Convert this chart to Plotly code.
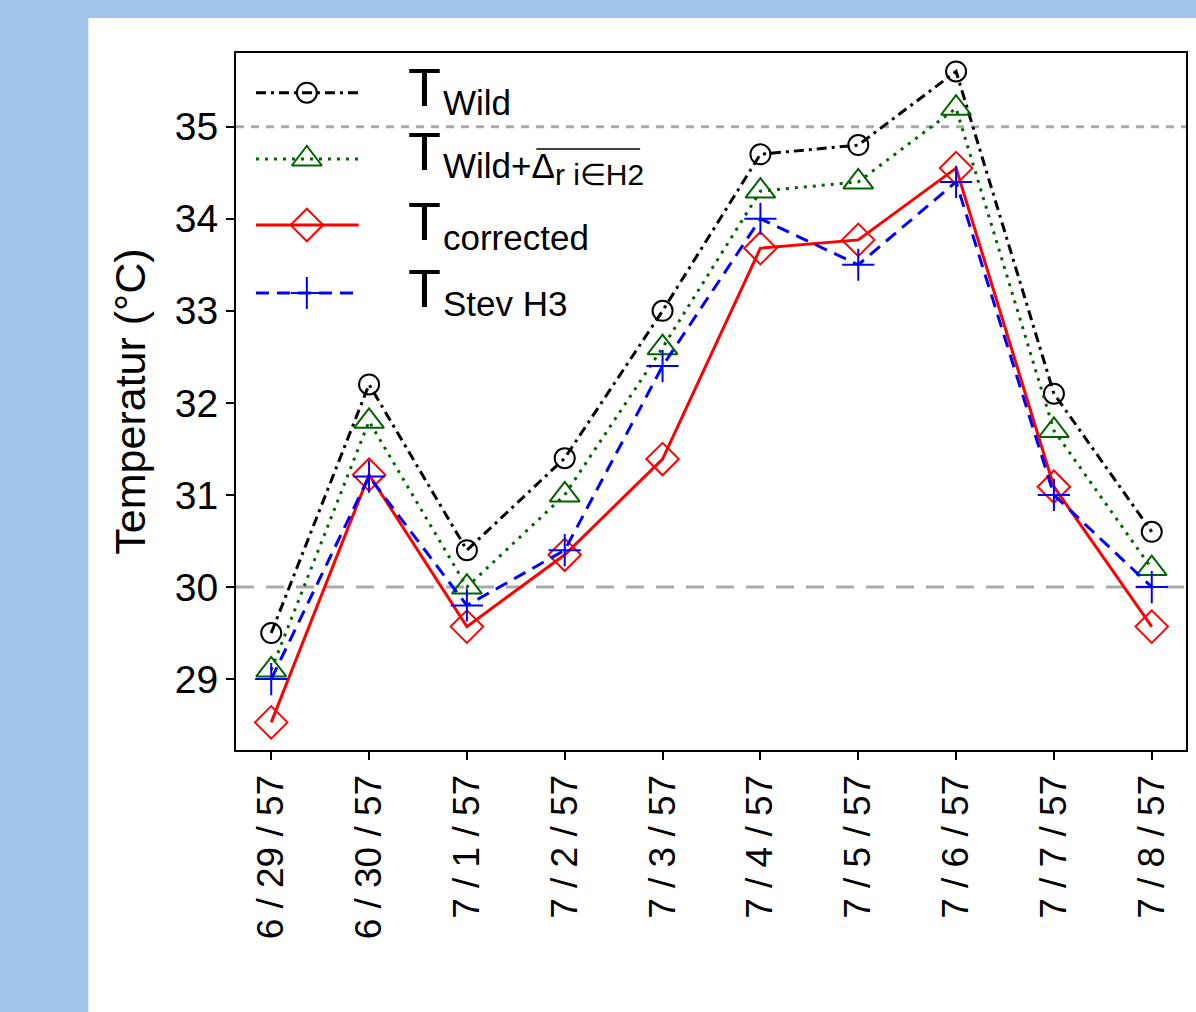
import plotly.graph_objects as go

# ---------------- data ----------------
dates = ["6 / 29 / 57", "6 / 30 / 57", "7 / 1 / 57", "7 / 2 / 57", "7 / 3 / 57",
         "7 / 4 / 57", "7 / 5 / 57", "7 / 6 / 57", "7 / 7 / 57", "7 / 8 / 57"]
t_wild = [29.5, 32.2, 30.4, 31.4, 33.0, 34.7, 34.8, 35.6, 32.1, 30.6]
t_wild_delta = [29.1, 31.8, 30.0, 31.0, 32.6, 34.3, 34.4, 35.2, 31.7, 30.2]
t_corrected = [28.53, 31.22, 29.57, 30.35, 31.39, 33.68, 33.77, 34.55, 31.09, 29.57]
t_stev_h3 = [29.0, 31.2, 29.8, 30.4, 32.4, 34.0, 33.5, 34.4, 31.0, 30.0]
y_ticks = [29, 30, 31, 32, 33, 34, 35]
ref_levels = [35, 30]

# ---------------- layout geometry (pixels) ----------------
W, H = 1196, 1012
L, R, T, B = 236, 1188, 53, 750
FONT = "Liberation Sans, Arial, Helvetica, sans-serif"


def px_x(px):
    return (px - L) / (R - L)


def px_y(py):
    return (B - py) / (B - T)


series = [
    dict(name="Wild", y=t_wild, color="black", dash="10px,5px,3px,5px",
         symbol="circle-open", size=20),
    dict(name="Wild+Δ", y=t_wild_delta, color="#006400", dash="3px,6px",
         symbol="triangle-up-open", size=26),
    dict(name="corrected", y=t_corrected, color="#ff0000", dash="solid",
         symbol="diamond-open", size=25),
    dict(name="Stev H3", y=t_stev_h3, color="#0000ff", dash="13px,8px",
         symbol="cross-thin-open", size=23),
]

fig = go.Figure()

for s in series:
    fig.add_trace(go.Scatter(
        x=dates, y=s["y"], mode="lines+markers", name=s["name"],
        line=dict(color=s["color"], width=3, dash=s["dash"]),
        marker=dict(symbol=s["symbol"], size=s["size"], color=s["color"],
                    line=dict(color=s["color"], width=2)),
        showlegend=False, cliponaxis=False,
    ))

# ---------------- custom legend ----------------
leg_rows = [92.7, 159, 225, 293]
for s, ry in zip(series, leg_rows):
    fig.add_trace(go.Scatter(
        x=[px_x(256), px_x(359)], y=[px_y(ry), px_y(ry)], mode="lines",
        line=dict(color=s["color"], width=3, dash=s["dash"]),
        xaxis="x2", yaxis="y2", showlegend=False, hoverinfo="skip",
    ))
    fig.add_trace(go.Scatter(
        x=[px_x(307)], y=[px_y(ry)], mode="markers",
        marker=dict(symbol=s["symbol"], size=s["size"], color=s["color"],
                    line=dict(color=s["color"], width=2)),
        xaxis="x2", yaxis="y2", showlegend=False, hoverinfo="skip",
    ))

annotations = []


def ann(text, x, yc, size):
    annotations.append(dict(
        text=text, x=px_x(x), y=px_y(yc), xref="paper", yref="paper",
        xanchor="left", yanchor="middle", showarrow=False,
        font=dict(family=FONT, size=size, color="black"),
    ))


big_T_centers = [87.3, 151.3, 221.3, 288.3]
subs = ["Wild",
        "Wild+Δ<sub><span style='font-size:30px'>r i∈H2</span></sub>",
        "corrected", "Stev H3"]
sub_centers = [102.6, 168.0, 237.3, 303.6]
for c in big_T_centers:
    ann("T", 406, c, 54)
for t, c in zip(subs, sub_centers):
    ann(t, 441, c, 35)

shapes = [
    # white panel
    dict(type="rect", xref="paper", yref="paper",
         x0=px_x(88), x1=px_x(W + 5), y0=px_y(18), y1=px_y(H + 5),
         fillcolor="white", line=dict(width=0), layer="below"),
    # overline above Δ r i∈H2
    dict(type="line", xref="paper", yref="paper",
         x0=px_x(537), x1=px_x(641), y0=px_y(149), y1=px_y(149),
         line=dict(color="black", width=1.5)),
]
ref_dashes = ["8px,7px", "18px,12px"]
for lvl, d in zip(ref_levels, ref_dashes):
    shapes.append(dict(type="line", xref="paper", yref="y", x0=0, x1=1,
                       y0=lvl, y1=lvl, layer="below",
                       line=dict(color="#aaaaaa", width=3, dash=d)))

fig.update_layout(
    width=W, height=H, autosize=False,
    margin=dict(l=L, r=W - R, t=T, b=H - B, pad=0),
    paper_bgcolor="#9fc3e9", plot_bgcolor="white",
    font=dict(family=FONT, color="black"),
    showlegend=False,
    xaxis=dict(
        type="category", categoryorder="array", categoryarray=dates,
        range=[-0.36, 9.35], showline=True, linecolor="black", linewidth=2,
        mirror=True, ticks="outside", ticklen=8, tickwidth=1.5, tickcolor="black",
        tickangle=-90, tickfont=dict(size=37, family=FONT, color="black"),
        showgrid=False, zeroline=False,
    ),
    yaxis=dict(
        range=[28.23, 35.80], tickvals=y_ticks, showline=True, linecolor="black",
        linewidth=2, mirror=True, ticks="outside", ticklen=8, tickwidth=1.5,
        tickcolor="black", tickfont=dict(size=39, family=FONT, color="black"),
        showgrid=False, zeroline=False,
        title=dict(text="Temperatur (°C)", font=dict(size=43, family=FONT, color="black"),
                   standoff=16),
    ),
    xaxis2=dict(overlaying="x", range=[0, 1], visible=False, fixedrange=True),
    yaxis2=dict(overlaying="y", range=[0, 1], visible=False, fixedrange=True),
    shapes=shapes,
    annotations=annotations,
)

fig.write_html(
    "out.html",
    config={"displayModeBar": False},
    post_script="document.body.style.margin='0px';document.body.style.background='#9fc3e9';",
)
